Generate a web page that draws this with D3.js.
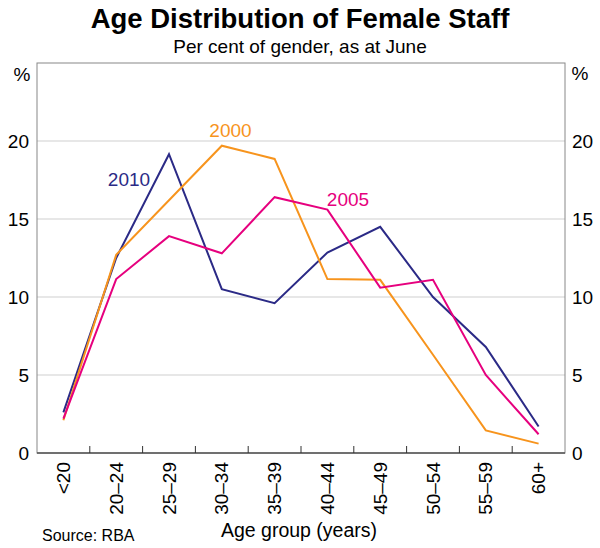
<!DOCTYPE html>
<html><head><meta charset="utf-8">
<script src="https://cdn.jsdelivr.net/npm/d3@7"></script>
<style>body{margin:0;background:#fff}svg{display:block}text{font-family:"Liberation Sans",Arimo,sans-serif}</style>
</head><body>
<svg id="c" width="600" height="548"></svg>
<script>
const categories = ["<20","20–24","25–29","30–34","35–39","40–44","45–49","50–54","55–59","60+"];
const s2000 = [2.1,12.7,16.2,19.7,18.85,11.15,11.1,6.3,1.45,0.6];
const s2005 = [2.2,11.15,13.9,12.8,16.4,15.6,10.6,11.1,5.0,1.2];
const s2010 = [2.6,12.5,19.15,10.5,9.6,12.85,14.5,10.0,6.8,1.7];
const yTicks = [0,5,10,15,20];
const seriesNames = ["2000","2005","2010"];
const colors = {"2000":"#f7941d","2005":"#e6007e","2010":"#2b2a86"};
const FF = '"Liberation Sans", Arimo, sans-serif';

const svg = d3.select("#c");
const L=37,R=565,T=63,B=453;
const x = d3.scaleBand().domain(categories).range([L,R]);
const y = d3.scaleLinear().domain([0,25]).range([B,T]);

svg.append("text").attr("x",300).attr("y",28).attr("text-anchor","middle").attr("font-size",27.5).attr("font-weight","bold").text("Age Distribution of Female Staff");
svg.append("text").attr("x",300).attr("y",53).attr("text-anchor","middle").attr("font-size",19).text("Per cent of gender, as at June");

// gridlines
svg.append("g").selectAll("line").data(yTicks.filter(d=>d>0)).join("line")
  .attr("x1",L).attr("x2",R).attr("y1",d=>y(d)).attr("y2",d=>y(d)).attr("stroke","#d0d0d0").attr("stroke-width",1.2);

// frame
svg.append("rect").attr("x",L).attr("y",T).attr("width",R-L).attr("height",B-T).attr("fill","none").attr("stroke","#888").attr("stroke-width",1);
svg.append("line").attr("x1",L).attr("x2",R).attr("y1",B).attr("y2",B).attr("stroke","#555").attr("stroke-width",1.5);

// y labels
const gl = svg.append("g").attr("transform",`translate(${L},0)`).call(d3.axisLeft(y).tickValues(yTicks).tickSize(0).tickPadding(8));
const gr = svg.append("g").attr("transform",`translate(${R},0)`).call(d3.axisRight(y).tickValues(yTicks).tickSize(0).tickPadding(7));
[gl,gr].forEach(g=>{g.select(".domain").remove();g.selectAll("text").attr("font-size",19).attr("fill","#000").attr("font-family",FF);});
svg.append("text").attr("x",22).attr("y",81).attr("text-anchor","middle").attr("font-size",19).text("%");
svg.append("text").attr("x",580).attr("y",80).attr("text-anchor","middle").attr("font-size",19).text("%");

// x ticks at category boundaries
svg.append("g").selectAll("line").data(categories.slice(1)).join("line")
  .attr("x1",d=>x(d)).attr("x2",d=>x(d)).attr("y1",B).attr("y2",B-7).attr("stroke","#333").attr("stroke-width",1);
// x labels
svg.append("g").selectAll("text").data(categories).join("text")
  .attr("transform",d=>`translate(${x(d)+x.bandwidth()/2},${B+9}) rotate(-90)`)
  .attr("dy","0.35em").attr("text-anchor","end").attr("font-size",19).text(d=>d);

svg.append("text").attr("x",299).attr("y",537).attr("text-anchor","middle").attr("font-size",19.5).text("Age group (years)");
svg.append("text").attr("x",42).attr("y",541).attr("font-size",16).text("Source: RBA");

const line = d3.line().x((d,i)=>x(categories[i])+x.bandwidth()/2).y(d=>y(d));
const data = {"2000":s2000,"2005":s2005,"2010":s2010};
["2010","2000","2005"].forEach(k=>{
  svg.append("path").datum(data[k]).attr("d",line).attr("fill","none").attr("stroke",colors[k]).attr("stroke-width",2);
});
svg.append("text").attr("x",129).attr("y",186).attr("text-anchor","middle").attr("font-size",19).attr("fill",colors["2010"]).text("2010");
svg.append("text").attr("x",230.5).attr("y",137).attr("text-anchor","middle").attr("font-size",19).attr("fill",colors["2000"]).text("2000");
svg.append("text").attr("x",348).attr("y",206).attr("text-anchor","middle").attr("font-size",19).attr("fill",colors["2005"]).text("2005");
</script>
</body></html>
